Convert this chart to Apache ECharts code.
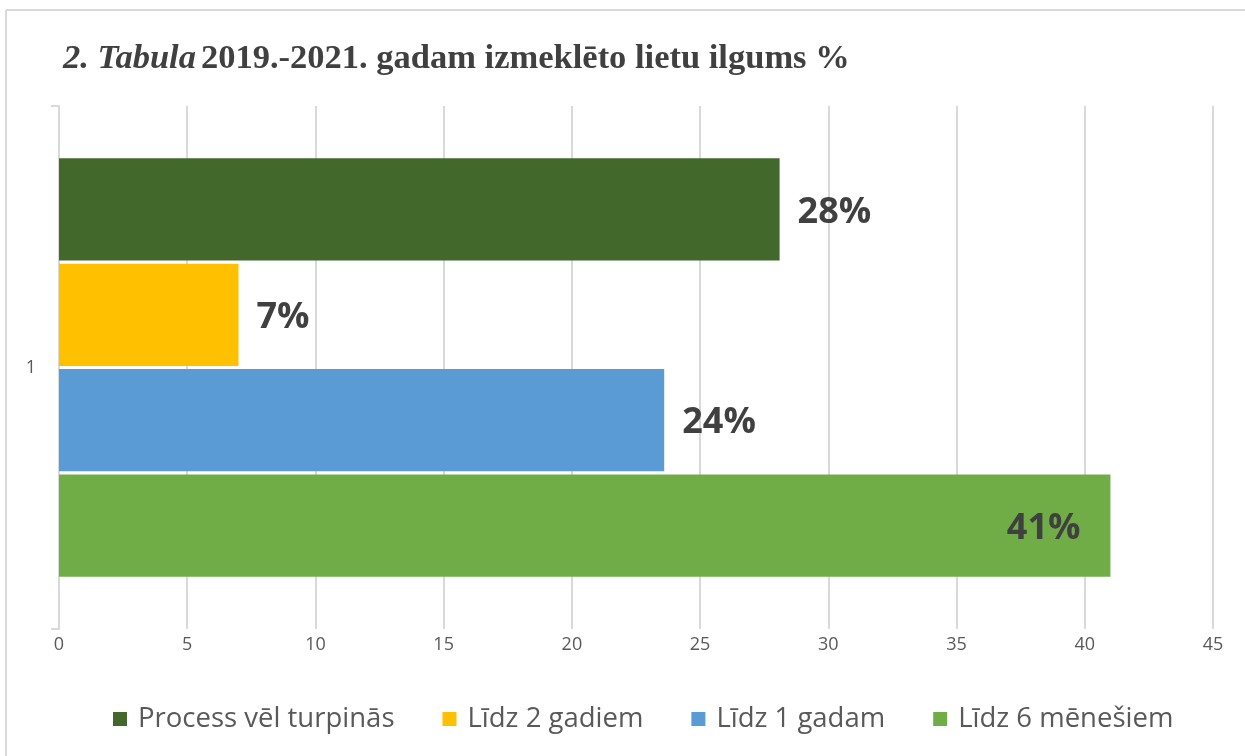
<!DOCTYPE html>
<html>
<head>
<meta charset="utf-8">
<script src="https://cdn.jsdelivr.net/npm/echarts@6/dist/echarts.min.js"></script>
<style>
  html, body { margin: 0; padding: 0; background: #fff; }
  #main { width: 1245px; height: 756px; }
</style>
</head>
<body>
<div id="main"></div>
<script>
// dati
const categories = ['1']
// sērijas no augšas uz leju (leģendas secībā)
const seriesNames = ['Process vēl turpinās', 'Līdz 2 gadiem', 'Līdz 1 gadam', 'Līdz 6 mēnešiem']
const seriesValues = [28.1, 7, 23.6, 41]
const seriesColors = ['#43682B', '#FFC000', '#5B9BD5', '#70AD47']
const xTicks = { min: 0, max: 45, interval: 5 }

const chart = echarts.init(document.getElementById('main'))

const series = seriesNames.map((name, i) => ({
  name: name,
  type: 'bar',
  data: [seriesValues[i]],
  itemStyle: { color: seriesColors[i] },
  barGap: '3%',
  barCategoryGap: '20%',
  label: {
    show: true,
    position: i === 3 ? 'insideRight' : 'right',
    distance: i === 3 ? 30 : 18,
    formatter: p => Math.round(p.value) + '%',
    fontFamily: 'Open Sans',
    fontWeight: 'bold',
    fontSize: 36,
    color: '#404040',
    offset: [0, 3]
  }
}))

const option = {
  animation: false,
  backgroundColor: '#fff',
  title: {
    left: 58,
    top: 37,
    text: '{i|2. Tabula} {b|2019.-2021. gadam izmeklēto lietu ilgums %}',
    textStyle: {
      rich: {
        i: { fontFamily: 'Liberation Serif', fontStyle: 'italic', fontWeight: 'bold', fontSize: 34.5, color: '#404040' },
        b: { fontFamily: 'Liberation Serif', fontWeight: 'bold', fontSize: 34.5, color: '#404040' }
      }
    }
  },
  legend: {
    top: 700,
    left: 108,
    itemWidth: 14,
    itemHeight: 14,
    itemGap: 48,
    icon: 'rect',
    data: seriesNames,
    textStyle: { fontFamily: 'Open Sans', fontSize: 27.5, color: '#595959', padding: [0, 0, 0, 6] }
  },
  grid: { left: 59, right: 32, top: 106, bottom: 127 },
  xAxis: {
    type: 'value',
    min: xTicks.min,
    max: xTicks.max,
    interval: xTicks.interval,
    axisLine: { show: false },
    axisTick: { show: false },
    splitLine: { lineStyle: { color: '#D9D9D9', width: 2 } },
    axisLabel: { fontFamily: 'Open Sans', fontSize: 18, color: '#595959', margin: 7 }
  },
  yAxis: {
    type: 'category',
    data: categories,
    axisLine: { lineStyle: { color: '#D9D9D9', width: 2 } },
    axisTick: { show: true, length: 8, lineStyle: { color: '#D9D9D9', width: 2 } },
    axisLabel: { fontFamily: 'Open Sans', fontSize: 18, color: '#595959', margin: 23 }
  },
  graphic: [
    { type: 'line', shape: { x1: 6, y1: 10, x2: 1245, y2: 10 }, style: { stroke: '#D9D9D9', lineWidth: 2 } },
    { type: 'line', shape: { x1: 6, y1: 10, x2: 6, y2: 756 }, style: { stroke: '#D9D9D9', lineWidth: 2 } }
  ],
  series: series
}

chart.setOption(option)
</script>
</body>
</html>
